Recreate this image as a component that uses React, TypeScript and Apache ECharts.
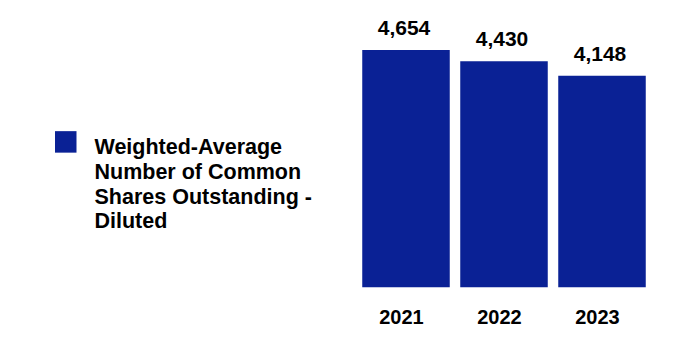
import React, { useEffect, useRef } from "react";
import * as echarts from "echarts";

const categories = ["2021", "2022", "2023"];
const seriesName = "Weighted-Average\nNumber of Common\nShares Outstanding -\nDiluted";
const values = [4654, 4430, 4148];

export default function App() {
  const ref = useRef<HTMLDivElement>(null);
  useEffect(() => {
    document.body.style.margin = "0";
    const chart = echarts.init(ref.current!, null, { renderer: "svg" });
    const font = "Liberation Sans, Arial, sans-serif";
    chart.setOption({
      animation: false,
      backgroundColor: "#ffffff",
      legend: {
        left: 50,
        top: 82.5,
        orient: "vertical",
        icon: "rect",
        itemWidth: 21.5,
        itemHeight: 21.5,
        selectedMode: false,
        data: [seriesName],
        formatter: (name: string) =>
          "{s| }\n" + name.split("\n").map((l) => "{t|" + l + "}").join("\n"),
        textStyle: {
          fontFamily: font,
          fontWeight: "bold",
          fontSize: 21.5,
          color: "#000",
          rich: {
            s: { lineHeight: 85, fontSize: 10, fontFamily: font, padding: [0, 0, 0, 13] },
            t: {
              lineHeight: 24.7,
              fontSize: 21.5,
              fontWeight: "bold",
              fontFamily: font,
              color: "#000",
              padding: [0, 0, 0, 13],
            },
          },
        },
      },
      grid: { left: 357, right: 29, top: 32.3, bottom: 70.7, containLabel: false },
      xAxis: {
        type: "category",
        data: categories,
        axisLine: { show: false },
        axisTick: { show: false },
        axisLabel: {
          margin: 20,
          fontFamily: font,
          fontWeight: "bold",
          fontSize: 20,
          color: "#000",
          padding: [0, 9, 0, 0],
        },
      },
      yAxis: {
        type: "value",
        min: 0,
        max: 5000,
        show: false,
        splitLine: { show: false },
      },
      series: [
        {
          name: seriesName,
          type: "bar",
          data: values,
          barCategoryGap: "10.7%",
          itemStyle: { color: "#0a2195" },
          label: {
            show: true,
            position: "top",
            distance: 12,
            fontFamily: font,
            fontWeight: "bold",
            fontSize: 21,
            color: "#000",
            padding: [0, 4, 0, 0],
            formatter: (p: any) => p.value.toLocaleString("en-US"),
          },
        },
      ],
    });
    return () => chart.dispose();
  }, []);
  return <div ref={ref} style={{ width: 680, height: 358 }} />;
}
